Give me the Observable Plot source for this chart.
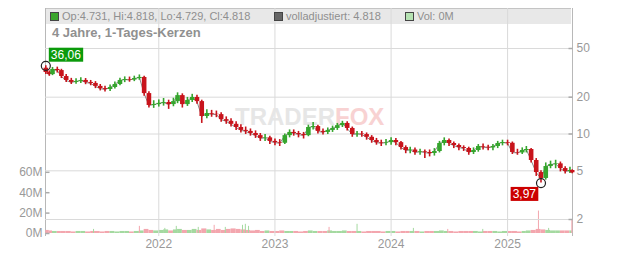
<!DOCTYPE html>
<html><head><meta charset="utf-8">
<script src="https://cdn.jsdelivr.net/npm/d3@7"></script>
<script src="https://cdn.jsdelivr.net/npm/@observablehq/plot@0.6"></script>
<style>
body{margin:0;background:#fff;font-family:"Liberation Sans",Arial,sans-serif;}
#wrap{position:relative;width:632px;height:253px;overflow:hidden;}
#wrap > *{position:absolute;}
#band{left:45px;top:8px;width:526px;height:15px;background:#e8e8e8;border-top:1px solid #c4c4c4;}
#frame{left:45px;top:8px;width:526px;height:228px;border-left:1px solid #b8b8b8;border-right:1px solid #b8b8b8;}
#legend{left:45px;top:9px;height:15px;width:527px;font-size:11px;line-height:15px;color:#8f8f8f;}
#legend span.sq{position:absolute;top:3px;width:7px;height:7px;border:1px solid #444;}
#legend span.tx{position:absolute;top:0;white-space:nowrap;}
#title{left:52px;top:26px;font-size:13px;font-weight:bold;color:#909090;line-height:14px;white-space:nowrap;}
</style></head><body><div id="wrap"><div id="band"></div><div id="frame"></div></div>
<script>
// ---- data (half-monthly candles) ----
const dates = [
 "2021-01-11","2021-01-22","2021-02-01","2021-02-16","2021-03-01","2021-03-16","2021-04-01","2021-04-16","2021-05-01","2021-05-16","2021-06-01","2021-06-16","2021-07-01","2021-07-16","2021-08-01","2021-08-16","2021-09-01","2021-09-16","2021-10-01","2021-10-16","2021-11-01","2021-11-16","2021-12-01","2021-12-16",
 "2022-01-01","2022-01-16","2022-02-01","2022-02-16","2022-03-01","2022-03-16","2022-04-01","2022-04-16","2022-05-01","2022-05-16","2022-06-01","2022-06-16","2022-07-01","2022-07-16","2022-08-01","2022-08-16","2022-09-01","2022-09-16","2022-10-01","2022-10-16","2022-11-01","2022-11-16","2022-12-01","2022-12-16",
 "2023-01-01","2023-01-16","2023-02-01","2023-02-16","2023-03-01","2023-03-16","2023-04-01","2023-04-16","2023-05-01","2023-05-16","2023-06-01","2023-06-16","2023-07-01","2023-07-16","2023-08-01","2023-08-16","2023-09-01","2023-09-16","2023-10-01","2023-10-16","2023-11-01","2023-11-16","2023-12-01","2023-12-16",
 "2024-01-01","2024-01-16","2024-02-01","2024-02-16","2024-03-01","2024-03-16","2024-04-01","2024-04-16","2024-05-01","2024-05-16","2024-06-01","2024-06-16","2024-07-01","2024-07-16","2024-08-01","2024-08-16","2024-09-01","2024-09-16","2024-10-01","2024-10-16","2024-11-01","2024-11-16","2024-12-01","2024-12-16",
 "2025-01-01","2025-01-16","2025-02-01","2025-02-16","2025-03-01","2025-03-16","2025-04-01","2025-04-16","2025-05-01","2025-05-16","2025-06-01","2025-06-16","2025-07-01","2025-07-16","2025-07-23"
];
const firstOpen = 34.5;
const close = [
 31.8,30.6,33.7,33.0,29.5,27.4,26.4,26.9,27.4,26.4,25.9,24.5,23.5,23.1,24.0,25.4,27.4,27.9,27.6,28.4,29.0,21.4,17.1,17.4,
 17.8,18.1,17.4,18.4,20.6,17.4,18.8,19.9,18.4,13.9,14.7,14.5,14.4,13.1,12.7,12.0,11.3,10.7,10.5,10.1,9.7,9.2,9.3,8.7,
 8.5,8.4,9.7,10.3,10.1,9.9,9.7,11.3,11.5,10.5,10.3,10.7,11.1,11.7,12.2,11.1,9.9,10.0,9.9,9.4,8.85,8.5,8.4,8.5,
 8.85,8.5,7.75,7.33,7.4,7.06,7.15,7.06,6.93,7.19,8.36,8.85,8.36,8.05,7.75,7.61,7.06,7.33,7.9,7.8,7.7,7.9,8.36,8.52,
 8.4,7.06,7.0,7.33,7.47,6.07,4.84,4.33,5.42,5.63,5.7,5.22,4.93,5.03,4.818
];
const high = [
 36.06,32.8,35.0,35.2,33.8,30.6,28.5,28.3,28.8,28.4,27.4,26.8,25.4,24.6,25.2,26.6,28.5,29.3,29.2,29.7,30.4,29.6,22.2,18.7,
 19.0,19.5,18.9,19.6,21.7,21.3,19.9,21.1,20.7,18.9,15.8,15.6,15.4,14.9,13.8,13.3,12.6,11.9,11.4,11.0,10.6,10.1,9.9,9.6,
 9.1,9.0,10.0,10.8,10.8,10.5,10.3,11.8,12.4,11.8,11.0,11.2,11.6,12.2,12.7,12.6,11.4,10.5,10.5,10.2,9.7,9.2,8.9,9.0,
 9.3,9.2,8.7,8.0,7.8,7.7,7.5,7.4,7.4,7.6,8.7,9.3,9.1,8.6,8.3,8.0,7.8,7.7,8.2,8.3,8.1,8.2,8.7,8.9,
 8.9,8.6,7.5,7.7,7.9,7.6,6.3,5.0,5.8,6.0,6.1,5.9,5.4,5.35,5.1
];
const low = [
 30.6,29.6,30.0,31.5,28.4,26.4,25.4,25.5,25.9,25.3,24.8,23.5,22.5,22.0,22.3,23.3,24.8,26.3,26.5,26.8,27.5,20.4,16.3,16.2,
 16.6,16.9,15.9,16.7,17.7,16.3,16.8,18.1,17.5,12.2,13.3,13.7,13.6,12.5,12.0,11.4,10.7,10.2,9.9,9.6,9.2,8.7,8.7,8.2,
 8.0,7.9,8.2,9.3,9.6,9.3,9.1,9.5,10.8,10.0,9.8,9.9,10.3,10.7,11.3,10.6,9.4,9.4,9.4,8.9,8.4,8.1,7.9,8.0,
 8.1,8.0,7.4,6.9,6.9,6.7,6.7,6.3,6.5,6.6,7.0,8.0,7.9,7.6,7.3,7.2,6.7,6.8,7.1,7.4,7.3,7.3,7.6,8.0,
 8.0,6.8,6.7,6.8,7.0,5.8,4.5,3.97,4.2,5.2,5.2,4.9,4.7,4.75,4.729
];
// volume in millions (typical level per half month)
const volume = [
 3,2.5,2,2,2,2,1.5,2,2,1.5,2,2,1.5,2,2,1.5,2,2,1.5,2,2.5,4,3,2.5,
 3,3.5,2.5,3.5,4,3,3,4,3,4.5,3.5,3,4,3,4,4.5,4,3.5,3,2.5,3,2,2.5,2,
 2,2.5,2,2,2,1.5,2,2.5,2,2,2,2.5,2,2,2.5,2,2,2,1.5,2,2,2,1.5,2,
 2,1.5,2,2,2,2,1.5,2,2,2,2.5,2,2,1.5,2,2,2,2,1.5,2,2,2,1.5,2,
 2,2,1.5,2,2.5,3,4,3.5,3,2.5,2.5,2.5,2.5,2.5,2.5
];
// single-day volume spikes (millions)
const spikeDates = ["2021-06-10","2021-11-01","2022-01-20","2022-02-25","2022-05-05","2022-06-24","2022-07-29","2022-09-21","2022-09-30","2022-10-10","2023-06-20","2023-09-16","2024-03-11","2024-06-27","2024-10-15","2025-04-08","2025-05-10","2025-07-22"];
const spikeVol   = [4,7,5,7,6,8,6,8,9,7,6,9,5,4,4,22,5,13];
const spikeUp    = [true,false,true,true,true,false,true,true,true,true,false,true,true,false,true,false,true,false];

const xDomain = ["2021-01-10","2025-07-24"];
const yearTicks = ["2022-01-01","2023-01-01","2024-01-01","2025-01-01"];
const priceTicks = [2,5,10,20,50];
const volTicks = [0,20,40,60];
const lastDay = [4.731,4.818,4.729,4.818]; // Op, Hi, Lo, Cl
const adjusted = 4.818;
const lastVol = "0M";
const titleText = "4 Jahre, 1-Tages-Kerzen";

// ---- styles ----
const green = "#35a52d", red = "#c8141c";
const volGreen = "#a4d9a0", volRed = "#f3a6ae";
const font = "'Liberation Sans', Arial, sans-serif";

const data = dates.map((d, i) => ({
  date: new Date(d),
  next: new Date(i + 1 < dates.length ? dates[i + 1] : xDomain[1]),
  open: i ? close[i - 1] : firstOpen,
  close: close[i], high: high[i], low: low[i], volume: volume[i]
}));
data.forEach(d => d.up = d.close >= d.open);
const spikes = spikeDates.map((d, i) => ({date: new Date(d), vol: spikeVol[i], up: spikeUp[i]}));

const iMax = d3.maxIndex(high), iMin = d3.minIndex(low);
const fmt = v => v.toFixed(2).replace(".", ",");
const maxPt = {date: data[iMax].date, value: high[iMax], label: fmt(high[iMax])};
const minPt = {date: data[iMin].date, value: low[iMin], label: fmt(low[iMin])};

const tickSym = (a, b) => ({draw(ctx) { ctx.moveTo(a, 0); ctx.lineTo(b, 0); }});
const xd = xDomain.map(d => new Date(d));
const baseStyle = {background: "transparent", color: "#999", fontFamily: font, fontSize: "12px", overflow: "visible"};

const volPlot = Plot.plot({
  width: 632, height: 253, marginLeft: 45, marginRight: 60, marginTop: 8, marginBottom: 17,
  style: baseStyle,
  x: {type: "utc", domain: xd, axis: null},
  y: {domain: [0, 60], range: [233, 171.8], axis: "left", ticks: volTicks, tickFormat: d => d + "M", tickSize: 0, tickPadding: 3, label: null},
  color: {type: "identity"},
  marks: [
    Plot.rect(data, {x1: "date", x2: "next", y1: 0, y2: "volume", fill: d => d.up ? volGreen : volRed}),
    Plot.ruleX(spikes, {x: "date", y1: 0, y2: "vol", stroke: d => d.up ? volGreen : volRed, strokeWidth: 1}),
    Plot.dot(volTicks, {y: d => d, frameAnchor: "left", symbol: tickSym(0, 4), stroke: "#aaa", fill: "none"})
  ]
});

const pricePlot = Plot.plot({
  width: 632, height: 253, marginLeft: 45, marginRight: 60, marginTop: 8, marginBottom: 17,
  style: baseStyle,
  x: {type: "utc", domain: xd, ticks: yearTicks.map(d => new Date(d)), tickFormat: d3.utcFormat("%Y"), tickSize: 0, tickPadding: 3, label: null},
  y: {type: "log", domain: [2, 50], range: [219, 48], axis: "right", ticks: priceTicks, tickFormat: d => String(d), tickSize: 0, tickPadding: 4, label: null},
  color: {type: "identity"},
  marks: [
    Plot.ruleX(yearTicks.map(d => new Date(d)), {stroke: "#dadada"}),
    Plot.ruleY(priceTicks, {stroke: "#dadada"}),
    Plot.dot(priceTicks, {y: d => d, frameAnchor: "right", symbol: tickSym(-4, 0), stroke: "#aaa", fill: "none"}),
    Plot.text(["TRADER"], {text: d => d, frameAnchor: "middle", dx: 26, dy: -5, textAnchor: "end", fill: "#e6e6e6", fontSize: 24, fontWeight: "bold"}),
    Plot.text(["FOX"], {text: d => d, frameAnchor: "middle", dx: 26, dy: -5, textAnchor: "start", fill: "#f8d2d2", fontSize: 24, fontWeight: "bold"}),
    Plot.line(data, {x: "date", y: "close", stroke: "#8a8a8a", strokeWidth: 1}),
    Plot.ruleX(data, {x: "date", y1: "low", y2: "high", stroke: d => d.up ? green : red, strokeWidth: 1.6}),
    Plot.ruleX(data, {x: "date", y1: "open", y2: "close", stroke: d => d.up ? green : red, strokeWidth: 4.6}),
    Plot.dot([maxPt, minPt], {x: "date", y: "value", r: 4.5, stroke: "#222", fill: "none", strokeWidth: 1.2}),
    Plot.text([maxPt], {x: "date", y: "value", text: "label", dx: 5, dy: -11, textAnchor: "start", fill: "white", fontSize: 12}),
    Plot.text([minPt], {x: "date", y: "value", text: "label", dx: -5, dy: 11, textAnchor: "end", fill: "white", fontSize: 12})
  ]
});

const wrap = document.getElementById("wrap");
[volPlot, pricePlot].forEach(s => { s.style.position = "absolute"; s.style.left = "0"; s.style.top = "0"; wrap.appendChild(s); });

// label boxes behind the value labels
[[maxPt.label, "#0b9a0b"], [minPt.label, "#cc0000"]].forEach(([lab, col]) => {
  const t = [...pricePlot.querySelectorAll("text")].find(e => e.textContent === lab);
  if (!t) return;
  const b = t.getBBox();
  const r = document.createElementNS("http://www.w3.org/2000/svg", "rect");
  r.setAttribute("x", b.x - 2); r.setAttribute("y", b.y);
  r.setAttribute("width", b.width + 4); r.setAttribute("height", b.height);
  r.setAttribute("fill", col);
  if (t.getAttribute("transform")) r.setAttribute("transform", t.getAttribute("transform"));
  t.parentNode.insertBefore(r, t);
});

// legend row and title
const legend = document.createElement("div");
legend.id = "legend";
const items = [
  {x: 5, color: "#3aa52c", text: `Op:${lastDay[0]}, Hi:${lastDay[1]}, Lo:${lastDay[2]}, Cl:${lastDay[3]}`},
  {x: 229, color: "#666", text: `volladjustiert: ${adjusted}`},
  {x: 360, color: "#b5e2b2", text: `Vol: ${lastVol}`}
];
items.forEach(it => {
  const sq = document.createElement("span"); sq.className = "sq"; sq.style.left = it.x + "px"; sq.style.background = it.color;
  const tx = document.createElement("span"); tx.className = "tx"; tx.style.left = (it.x + 12) + "px"; tx.textContent = it.text;
  legend.append(sq, tx);
});
wrap.appendChild(legend);
const title = document.createElement("div");
title.id = "title"; title.textContent = titleText;
wrap.appendChild(title);
</script>
</body></html>
